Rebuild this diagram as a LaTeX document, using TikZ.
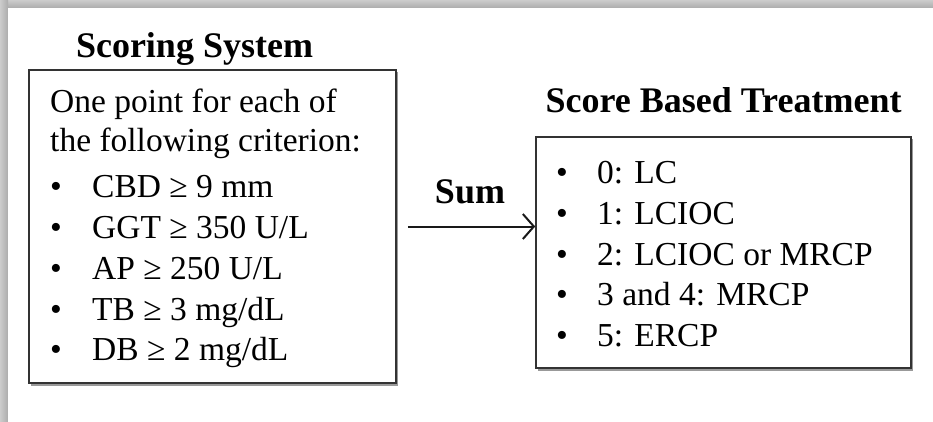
\documentclass[tikz,border=0pt]{standalone}
\usepackage{fontspec}
\setmainfont{Liberation Serif}
\usetikzlibrary{arrows.meta,shadows}
\begin{document}
\begin{tikzpicture}[x=1pt,y=-1pt,
  body/.style={font=\fontsize{33.5}{40}\selectfont, inner sep=0pt, anchor=base west, text=black},
  head/.style={font=\fontsize{36}{40}\selectfont\bfseries, inner sep=0pt, anchor=base, text=black},
  boxstyle/.style={draw=black!80, line width=1.6pt, fill=white, inner sep=0pt,
    drop shadow={shadow xshift=1.5pt, shadow yshift=-2.5pt, fill=black, opacity=.4}},
  arr/.style={-{Straight Barb[length=11pt,width=25pt,line width=2pt]}, line width=2pt, draw=black!90}]
\useasboundingbox (0,0) rectangle (933,422);
\fill[white] (0,0) rectangle (933,422);
\shade[top color=gray!40, bottom color=gray!65] (0,0) rectangle (933,8);
\shade[left color=gray!40, right color=gray!65] (0,0) rectangle (8,422);
\fill[white] (8,8) rectangle (933,422);

\node[head] (t1) at (194.5,58) {Scoring System};
\node[head] (t2) at (723.5,113) {Score Based Treatment};
\node[head] (sum) at (470,203) {Sum};

\node[boxstyle, minimum width=367pt, minimum height=313pt] (lbox) at (212.5,226.5) {};
\node[boxstyle, minimum width=375pt, minimum height=231pt] (rbox) at (723.5,252.5) {};

\node[body] (l1) at (50,113) {One point for each of};
\node[body] (l2) at (50,152) {the following criterion:};
\node[body] (lb1) at (50,197) {•};
\node[body] (li1) at (92,197) {CBD ≥ 9 mm};
\node[body] (lb2) at (50,238) {•};
\node[body] (li2) at (92,238) {GGT ≥ 350 U/L};
\node[body] (lb3) at (50,279) {•};
\node[body] (li3) at (92,279) {AP ≥ 250 U/L};
\node[body] (lb4) at (50,320) {•};
\node[body] (li4) at (92,320) {TB ≥ 3 mg/dL};
\node[body] (lb5) at (50,360) {•};
\node[body] (li5) at (92,360) {DB ≥ 2 mg/dL};

\node[body] (rb1) at (556,183) {•};
\node[body] (ri1) at (597,183) {0: LC};
\node[body] (rb2) at (556,224) {•};
\node[body] (ri2) at (597,224) {1: LCIOC};
\node[body] (rb3) at (556,265) {•};
\node[body] (ri3) at (597,265) {2: LCIOC or MRCP};
\node[body] (rb4) at (556,305) {•};
\node[body] (ri4) at (597,305) {3 and 4: MRCP};
\node[body] (rb5) at (556,346) {•};
\node[body] (ri5) at (597,346) {5: ERCP};

\draw[arr] ([xshift=11pt]lbox.east) -- (lbox.east -| rbox.west);
\end{tikzpicture}
\end{document}
